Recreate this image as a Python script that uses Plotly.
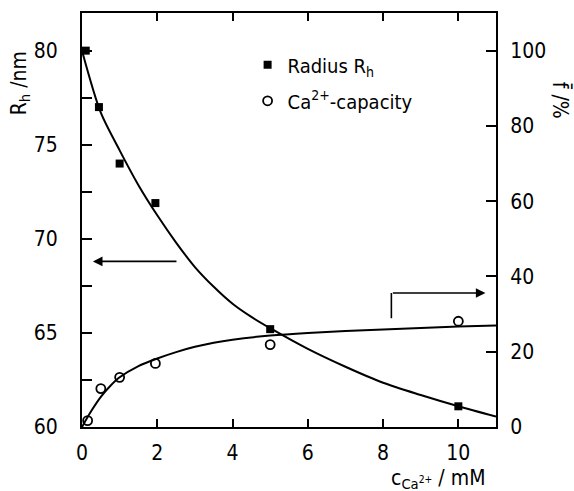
import plotly.graph_objects as go

# --- data ---
conc_points = [0.1, 0.45, 1.0, 1.95, 5.0, 10.0]           # c_Ca2+ / mM
radius_points = [80.0, 77.0, 74.0, 71.9, 65.2, 61.1]      # R_h / nm
capacity_x = [0.15, 0.5, 1.0, 1.95, 5.0, 10.0]
capacity_points = [1.7, 10.2, 13.2, 16.9, 21.9, 28.1]     # f / %

radius_curve_x = [0, 0.5, 1.0, 1.5, 2.0, 2.5, 3.0, 3.5, 4.0, 4.5, 5.0, 6.0, 7.0, 8.0, 9.0, 10.0, 11.0]
radius_curve_y = [80.0, 76.7, 74.7, 72.85, 71.25, 69.8, 68.5, 67.45, 66.55, 65.85, 65.25,
                  64.15, 63.2, 62.35, 61.7, 61.1, 60.55]

capacity_curve_x = [0, 0.25, 0.5, 0.75, 1.0, 1.5, 2.0, 2.5, 3.0, 3.5, 4.0, 5.0, 6.0, 7.0, 8.0, 9.0, 10.0, 11.0]
capacity_curve_y = [0.0, 4.3, 8.0, 10.9, 13.2, 16.2, 18.2, 19.9, 21.3, 22.4, 23.2, 24.3,
                    25.0, 25.5, 25.9, 26.3, 26.7, 27.0]

x_ticks = [0, 2, 4, 6, 8, 10]
left_ticks = [60, 65, 70, 75, 80]
right_ticks = [0, 20, 40, 60, 80, 100]

FONT = "Liberation Sans Narrow, DejaVu Sans Condensed, Arial, sans-serif"
BLACK = "black"

fig = go.Figure()

fig.add_trace(go.Scatter(x=radius_curve_x, y=radius_curve_y, mode="lines",
                         line=dict(color=BLACK, width=2, shape="spline", smoothing=0.8),
                         showlegend=False, hoverinfo="skip"))
fig.add_trace(go.Scatter(x=capacity_curve_x, y=capacity_curve_y, mode="lines",
                         line=dict(color=BLACK, width=2, shape="spline", smoothing=0.8),
                         yaxis="y2", showlegend=False, hoverinfo="skip"))

fig.add_trace(go.Scatter(x=conc_points, y=radius_points, mode="markers",
                         name="Radius R<sub>h</sub>", legendgroup="a",
                         marker=dict(symbol="square", size=8, color=BLACK)))
fig.add_trace(go.Scatter(x=capacity_x, y=capacity_points, mode="markers",
                         name="Ca<sup>2+</sup>-capacity", legendgroup="b",
                         yaxis="y2",
                         marker=dict(symbol="circle-open", size=9, color=BLACK,
                                     line=dict(width=1.8, color=BLACK))))

# arrows
fig.add_annotation(x=0.29, y=68.8, ax=2.55, ay=68.8, xref="x", yref="y",
                   axref="x", ayref="y", showarrow=True, arrowhead=2,
                   arrowsize=1.2, arrowwidth=1.6, arrowcolor=BLACK, text="")
fig.add_shape(type="line", x0=8.22, x1=8.22, y0=28.9, y1=35.6,
              xref="x", yref="y2", line=dict(color=BLACK, width=1.6))
fig.add_annotation(x=10.72, y=35.6, ax=8.22, ay=35.6, xref="x", yref="y2",
                   axref="x", ayref="y2", showarrow=True, arrowhead=2,
                   arrowsize=1.2, arrowwidth=1.6, arrowcolor=BLACK, text="")

# axis titles
fig.add_annotation(text="R<sub>h</sub> /nm", xref="paper", yref="paper",
                   x=-0.15, y=0.83, textangle=-90, showarrow=False,
                   font=dict(family=FONT, size=21, color=BLACK),
                   xanchor="center", yanchor="middle")
fig.add_annotation(text="f\u0304 /%", xref="paper", yref="paper",
                   x=1.155, y=0.79, textangle=90, showarrow=False,
                   font=dict(family=FONT, size=21, color=BLACK),
                   xanchor="center", yanchor="middle")
fig.add_annotation(text="c<sub>Ca<sup>2+</sup></sub> / mM", xref="paper", yref="paper",
                   x=0.86, y=-0.125, showarrow=False,
                   font=dict(family=FONT, size=21, color=BLACK),
                   xanchor="center", yanchor="middle")

fig.update_layout(
    width=574, height=491,
    margin=dict(l=82, r=78, t=13, b=64),
    paper_bgcolor="white", plot_bgcolor="white",
    font=dict(family=FONT, size=20, color=BLACK),
    showlegend=True,
    legend=dict(x=0.40, y=0.922, xanchor="left", yanchor="top",
                bgcolor="rgba(0,0,0,0)", borderwidth=0,
                tracegroupgap=7, font=dict(family=FONT, size=20, color=BLACK)),
    xaxis=dict(range=[0, 11], tickvals=x_ticks, showgrid=False, zeroline=False,
               showline=True, linecolor=BLACK, linewidth=2, mirror="ticks",
               ticks="inside", ticklen=8, tickwidth=2, tickcolor=BLACK,
               ticklabelstandoff=6, tickfont=dict(size=21)),
    yaxis=dict(range=[60, 82], tickvals=left_ticks, showgrid=False, zeroline=False,
               showline=True, linecolor=BLACK, linewidth=2,
               ticks="inside", ticklen=10, tickwidth=2, tickcolor=BLACK,
               minor=dict(dtick=2.5, ticks="inside", ticklen=10, tickwidth=2,
                          tickcolor=BLACK, showgrid=False),
               ticklabelstandoff=18, tickfont=dict(size=21)),
    yaxis2=dict(range=[0, 110], tickvals=right_ticks, overlaying="y", side="right",
                showgrid=False, zeroline=False, showline=True, linecolor=BLACK,
                linewidth=2, ticks="inside", ticklen=10, tickwidth=2,
                tickcolor=BLACK, ticklabelstandoff=8, tickfont=dict(size=21)),
)

fig.write_html("out.html")
